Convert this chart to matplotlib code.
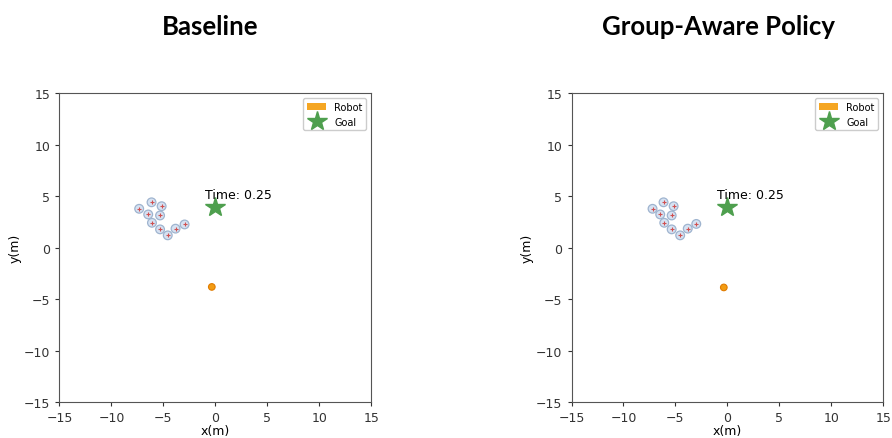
import matplotlib
matplotlib.use("Agg")
import matplotlib.pyplot as plt
from matplotlib.patches import Circle, Patch
from matplotlib.lines import Line2D

# Scene state at t = 0.25 s
panel_titles = ["Baseline", "Group-Aware Policy"]
time_label = "Time: 0.25"

human_x_baseline = [-7.33, -6.14, -5.17, -6.46, -5.32, -6.10, -5.32, -4.58, -3.83, -2.96]
human_y_baseline = [3.79, 4.42, 4.04, 3.24, 3.14, 2.43, 1.79, 1.21, 1.86, 2.27]
human_x_group = [-7.20, -6.14, -5.17, -6.46, -5.36, -6.07, -5.36, -4.54, -3.81, -2.99]
human_y_group = [3.79, 4.42, 4.04, 3.24, 3.14, 2.43, 1.79, 1.21, 1.86, 2.32]

robot_xy = [(-0.34, -3.80), (-0.34, -3.85)]
goal_xy = (0.0, 4.0)
human_radius = 0.42
robot_radius = 0.32

axis_limits = (-15, 15)
ticks = [-15, -10, -5, 0, 5, 10, 15]

fig = plt.figure(figsize=(8.92, 4.39), dpi=100)
ax_rects = [[0.0667, 0.0815, 0.3494, 0.7035],
            [0.6407, 0.0815, 0.3494, 0.7035]]
title_x = [0.236, 0.806]

humans = [(human_x_baseline, human_y_baseline), (human_x_group, human_y_group)]

for i in range(2):
    ax = fig.add_axes(ax_rects[i])
    ax.set_xlim(*axis_limits)
    ax.set_ylim(*axis_limits)
    ax.set_xticks(ticks)
    ax.set_yticks(ticks)
    ax.tick_params(labelsize=9, length=3, colors="#333333")
    for sp in ax.spines.values():
        sp.set_color("#555555")
    ax.set_xlabel("x(m)", fontsize=9, labelpad=0)
    ax.set_ylabel("y(m)", fontsize=9, labelpad=2)

    hx, hy = humans[i]
    for x, y in zip(hx, hy):
        ax.add_patch(Circle((x, y), human_radius, facecolor="#d6e2f2",
                            edgecolor="#9fb4cf", linewidth=0.9, zorder=3))
        ax.plot([x], [y], marker="+", color="#d05050", markersize=3,
                markeredgewidth=0.8, zorder=4)

    rx, ry = robot_xy[i]
    ax.add_patch(Circle((rx, ry), robot_radius, facecolor="#f39c12",
                        edgecolor="#e07b00", linewidth=0.8, zorder=3))

    ax.plot([goal_xy[0]], [goal_xy[1]], marker="*", color="#4e9f4e",
            markersize=15, linestyle="None", zorder=3)
    ax.text(-1.0, 4.85, time_label, fontsize=9, color="black")

    handles = [Patch(facecolor="#f5a623", edgecolor="none"),
               Line2D([], [], marker="*", color="#4e9f4e", markersize=15,
                      linestyle="None")]
    ax.legend(handles, ["Robot", "Goal"], loc="upper right", fontsize=7,
              handlelength=2.0, handleheight=0.7, borderpad=0.4,
              labelspacing=0.45, framealpha=1, edgecolor="#cccccc")

    fig.text(title_x[i], 0.938, panel_titles[i], fontsize=18.5,
             fontweight="bold", family=["Lato", "DejaVu Sans"],
             ha="center", va="center")

fig.savefig("out.png", dpi=100)
